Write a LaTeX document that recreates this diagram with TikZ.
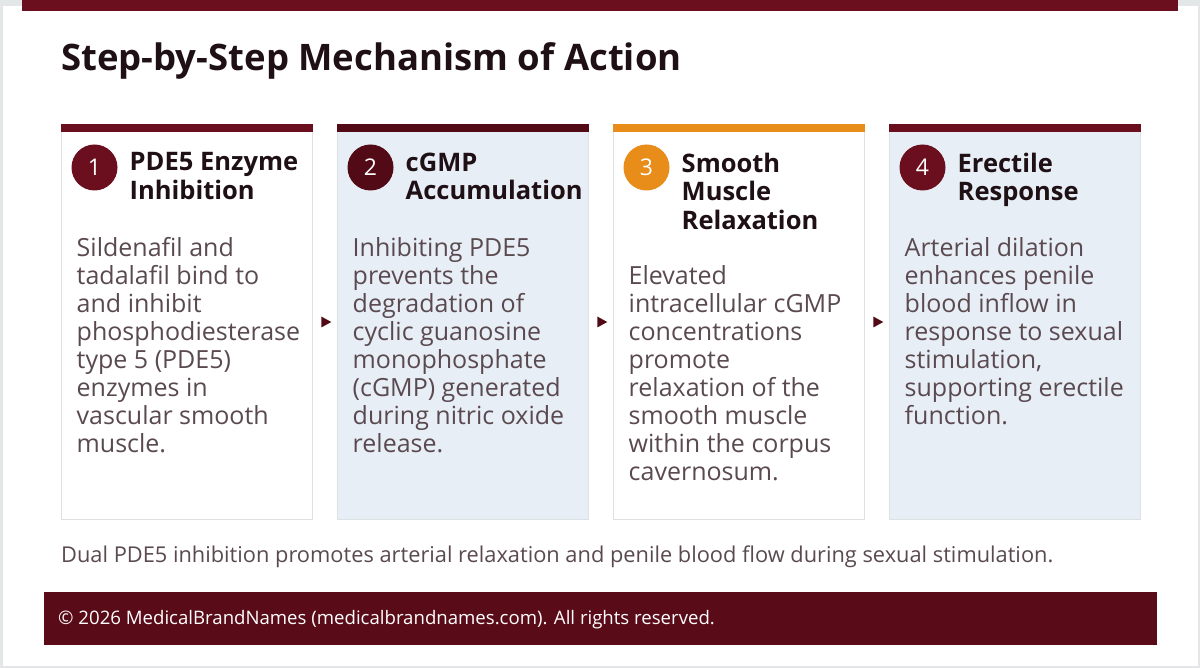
\documentclass[tikz,border=0pt]{standalone}
\usepackage{fontspec}
\setmainfont{Open Sans}
\usetikzlibrary{calc,shapes.geometric}

\definecolor{maroon}{HTML}{6B0F1E}
\definecolor{darkmaroon}{HTML}{510A16}
\definecolor{footred}{HTML}{5A0B18}
\definecolor{amber}{HTML}{E88C1A}
\definecolor{paleblue}{HTML}{E8EEF6}
\definecolor{cardline}{HTML}{DDE1E4}
\definecolor{pagegray}{HTML}{E4E7E8}
\definecolor{titletext}{HTML}{1E1014}
\definecolor{bodytext}{HTML}{5A4A50}

\tikzset{
  card/.style={draw=cardline, line width=1pt, minimum width=251pt, minimum height=394pt, inner sep=0pt},
  badge/.style={circle, minimum size=46pt, inner sep=0pt, text=white, font=\fontsize{23}{23}\selectfont},
  head/.style={anchor=north west, inner sep=0pt, align=left, text=titletext, font=\fontsize{25.5}{28.5}\selectfont\bfseries},
  body/.style={anchor=north west, inner sep=0pt, align=left, text=bodytext, font=\fontsize{25}{28}\selectfont},
  pointer/.style={isosceles triangle, isosceles triangle stretches, minimum height=10pt, minimum width=11pt, inner sep=0pt, fill=darkmaroon}
}

\begin{document}
\begin{tikzpicture}[x=1pt,y=-1pt]
  \useasboundingbox (0,0) rectangle (1200,668);
  \fill[pagegray] (0,0) rectangle (1200,668);
  \fill[white] (2.5,6.5) rectangle (1197.5,665.5);
  \fill[maroon] (22,0) rectangle (1178,11);

  \node[anchor=base west, inner sep=0pt, text=titletext, font=\fontsize{36.5}{36}\selectfont\bfseries] (heading) at (61,71) {Step-by-Step Mechanism of Action};

  % the four cards
  \node[card, fill=white] (c1) at (186.5,322) {};
  \node[card, fill=paleblue] (c2) at (462.5,322) {};
  \node[card, fill=white] (c3) at (738.5,322) {};
  \node[card, fill=paleblue] (c4) at (1014.5,322) {};

  \fill[maroon] (c1.north west) rectangle ($(c1.north east)+(0,8)$);
  \fill[darkmaroon] (c2.north west) rectangle ($(c2.north east)+(0,8)$);
  \fill[amber] (c3.north west) rectangle ($(c3.north east)+(0,8)$);
  \fill[maroon] (c4.north west) rectangle ($(c4.north east)+(0,8)$);

  \node[badge, fill=maroon] (b1) at ($(c1.north west)+(34,43)$) {1};
  \node[badge, fill=darkmaroon] (b2) at ($(c2.north west)+(34,43)$) {2};
  \node[badge, fill=amber] (b3) at ($(c3.north west)+(34,43)$) {3};
  \node[badge, fill=maroon] (b4) at ($(c4.north west)+(34,43)$) {4};

  \node[head] (h1) at ($(c1.north west)+(69,28)$) {PDE5 Enzyme\\Inhibition};
  \node[head] (h2) at ($(c2.north west)+(69,28)$) {cGMP\\Accumulation};
  \node[head] (h3) at ($(c3.north west)+(69,28)$) {Smooth\\Muscle\\Relaxation};
  \node[head] (h4) at ($(c4.north west)+(69,28)$) {Erectile\\Response};

  \node[body] (t1) at ($(c1.north west)+(16,113)$) {Sildenafil and\\tadalafil bind to\\and inhibit\\phosphodiesterase\\type 5 (PDE5)\\enzymes in\\vascular smooth\\muscle.};
  \node[body] (t2) at ($(c2.north west)+(16,113)$) {Inhibiting PDE5\\prevents the\\degradation of\\cyclic guanosine\\monophosphate\\(cGMP) generated\\during nitric oxide\\release.};
  \node[body] (t3) at ($(c3.north west)+(16,141)$) {Elevated\\intracellular cGMP\\concentrations\\promote\\relaxation of the\\smooth muscle\\within the corpus\\cavernosum.};
  \node[body] (t4) at ($(c4.north west)+(16,113)$) {Arterial dilation\\enhances penile\\blood inflow in\\response to sexual\\stimulation,\\supporting erectile\\function.};

  % pointers between the cards
  \node[pointer] (p1) at ($(c1.east)!0.5!(c2.west)$) {};
  \node[pointer] (p2) at ($(c2.east)!0.5!(c3.west)$) {};
  \node[pointer] (p3) at ($(c3.east)!0.5!(c4.west)$) {};

  \node[anchor=west, inner sep=0pt, text=bodytext, font=\fontsize{21.8}{24}\selectfont] (note) at (61,557) {Dual PDE5 inhibition promotes arterial relaxation and penile blood flow during sexual stimulation.};

  \fill[footred] (44,592) rectangle (1157,645);
  \node[anchor=west, inner sep=0pt, text=white, font=\fontsize{18.6}{20}\selectfont] (copy) at (58,620) {© 2026 MedicalBrandNames (medicalbrandnames.com). All rights reserved.};
\end{tikzpicture}
\end{document}
